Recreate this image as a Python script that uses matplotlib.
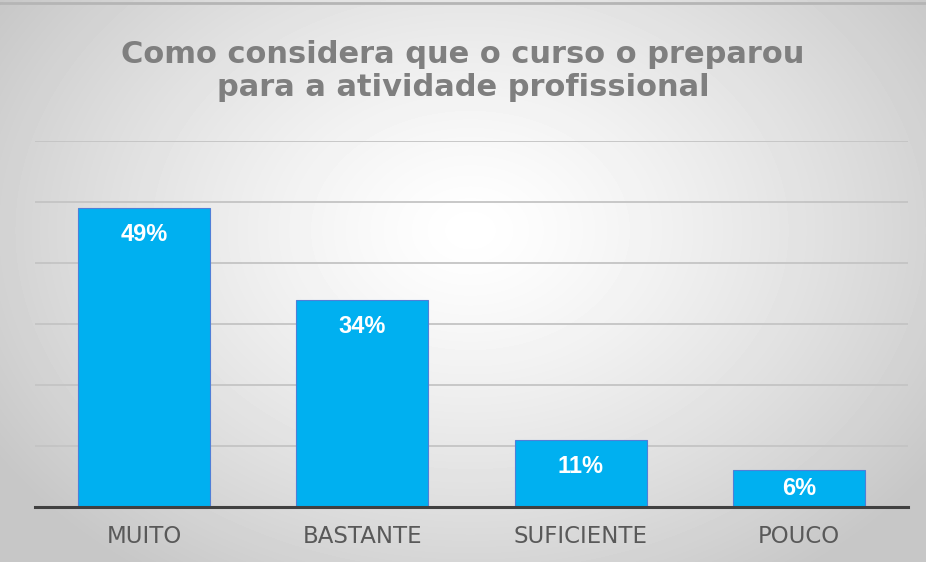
import numpy as np
import matplotlib.pyplot as plt

categories = ['MUITO', 'BASTANTE', 'SUFICIENTE', 'POUCO']
values = [49, 34, 11, 6]
labels = ['49%', '34%', '11%', '6%']
title = 'Como considera que o curso o preparou\npara a atividade profissional'

plt.rcParams['font.family'] = ['Liberation Sans', 'DejaVu Sans']

fig = plt.figure(figsize=(9.26, 5.62), dpi=100)

# radial gradient background
bg = fig.add_axes([0, 0, 1, 1], zorder=0)
yy, xx = np.mgrid[0:562, 0:926]
r = np.sqrt(((xx - 470) / 560.0) ** 2 + ((yy - 230) / 420.0) ** 2)
shade = np.clip(1.0 - 0.22 * r ** 1.3, 0.78, 1.0)
bg.imshow(shade, cmap='gray', vmin=0, vmax=1, aspect='auto', extent=[0, 1, 0, 1])
bg.axhline(0.995, color='#B5B5B5', linewidth=2)
bg.set_xlim(0, 1)
bg.set_ylim(0, 1)
bg.axis('off')

ax = fig.add_axes([0.0378, 0.0979, 0.9428, 0.6512], zorder=1)
ax.patch.set_alpha(0)
x = np.arange(len(categories))
ax.bar(x, values, width=0.605, color='#00B0F0', edgecolor='#4F7FD8',
       linewidth=0.8, zorder=3)

for xi, v, lab in zip(x, values, labels):
    ax.text(xi, v - min(4.4, v / 2), lab, ha='center', va='center',
            color='white', fontsize=17, fontweight='bold', zorder=4)

ax.set_xlim(-0.5, 3.5)
ax.set_ylim(0, 60)
ax.set_yticks(range(0, 61, 10))
ax.set_yticklabels([])
ax.tick_params(axis='y', length=0)
ax.grid(axis='y', color='#C4C4C4', linewidth=1.3, zorder=0)
ax.set_xticks(x)
ax.set_xticklabels(categories, fontsize=16.5, color='#595959',
                   family=['DejaVu Sans'])
ax.tick_params(axis='x', length=0, pad=13)
for s in ['top', 'right', 'left']:
    ax.spines[s].set_visible(False)
ax.spines['bottom'].set_color('#404040')
ax.spines['bottom'].set_linewidth(2.2)
ax.spines['bottom'].set_zorder(5)

fig.text(0.5, 0.874, title, ha='center', va='center', fontsize=22,
         fontweight='bold', color='#7F7F7F', linespacing=1.2, zorder=2,
         family=['DejaVu Sans'])

fig.savefig('out.png', dpi=100)
